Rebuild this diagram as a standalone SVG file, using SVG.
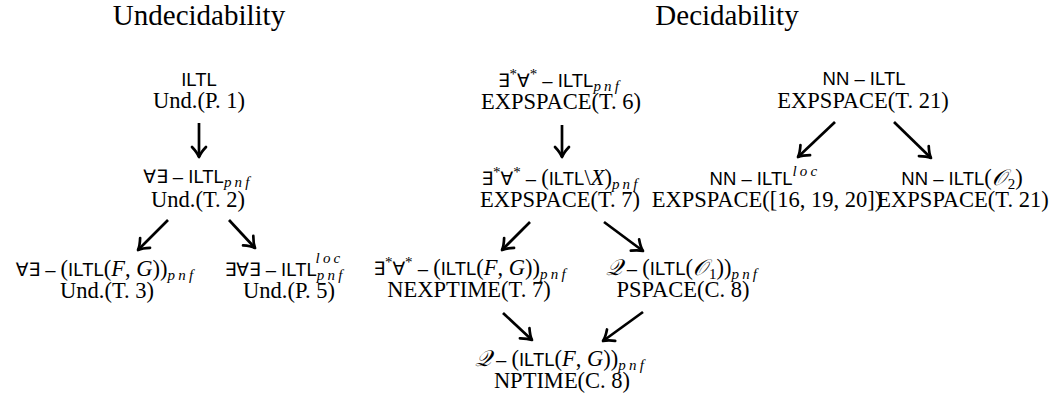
<svg xmlns="http://www.w3.org/2000/svg" width="1055" height="399" viewBox="0 0 1055 399">
<defs>
<style>
text{font-family:"Liberation Serif","DejaVu Serif",serif;font-size:22.5px;fill:#000;text-anchor:middle}
.t{font-size:29px}
.s{font-family:"Liberation Sans","DejaVu Sans",sans-serif;font-size:18.5px}
.it{font-style:italic}
.sb{font-style:italic;font-size:15px;letter-spacing:3.2px}
.st{font-size:15px}
.cal{font-family:"DejaVu Serif","Liberation Serif",serif;font-style:italic}
.arr line{stroke:#000;stroke-width:2.7;fill:none}
</style>
<marker id="ah" viewBox="-13 -10 15 20" markerWidth="15" markerHeight="20" refX="0" refY="0" orient="auto" markerUnits="userSpaceOnUse">
<path d="M-10,-7 Q-4.5,-1.8 0,0 Q-4.5,1.8 -10,7" fill="none" stroke="#000" stroke-width="2.7" stroke-linecap="round" stroke-linejoin="round"/>
</marker>
</defs>
<rect width="1055" height="399" fill="#fff"/>

<g id="titles">
<text class="t" x="199" y="25">Undecidability</text>
<text class="t" x="727" y="25">Decidability</text>
</g>

<g id="n-iltl">
<text x="199" y="86"><tspan class="s">ILTL</tspan></text>
<text x="199" y="108">Und.(P. 1)</text>
</g>

<g id="n-fe">
<text x="198" y="183"><tspan class="s">∀∃ – ILTL</tspan><tspan class="sb" dy="4">pnf</tspan></text>
<text x="198" y="207">Und.(T. 2)</text>
</g>

<g id="n-fe-fg">
<text x="106" y="276"><tspan class="s">∀∃ – </tspan><tspan>(</tspan><tspan class="s">ILTL</tspan><tspan>(</tspan><tspan class="it">F</tspan><tspan>, </tspan><tspan class="it">G</tspan><tspan>))</tspan><tspan class="sb" dy="4">pnf</tspan></text>
<text x="107" y="298">Und.(T. 3)</text>
</g>

<g id="n-efe-loc">
<text x="285" y="276"><tspan class="s">∃∀∃ – ILTL</tspan><tspan class="sb" dy="4">pnf</tspan><tspan class="sb" dx="-30" dy="-17">loc</tspan></text>
<text x="289" y="298">Und.(P. 5)</text>
</g>

<g id="n-ef">
<text x="560" y="87"><tspan class="s">∃</tspan><tspan class="st" dy="-8">*</tspan><tspan class="s" dy="8">∀</tspan><tspan class="st" dy="-8">*</tspan><tspan class="s" dy="8"> – ILTL</tspan><tspan class="sb" dy="4">pnf</tspan></text>
<text x="561" y="109">EXPSPACE(T. 6)</text>
</g>

<g id="n-ef-x">
<text x="561" y="185"><tspan class="s">∃</tspan><tspan class="st" dy="-8">*</tspan><tspan class="s" dy="8">∀</tspan><tspan class="st" dy="-8">*</tspan><tspan class="s" dy="8"> – </tspan><tspan>(</tspan><tspan class="s">ILTL</tspan><tspan>\</tspan><tspan class="it">X</tspan><tspan>)</tspan><tspan class="sb" dy="4">pnf</tspan></text>
<text x="560" y="207">EXPSPACE(T. 7)</text>
</g>

<g id="n-ef-fg">
<text x="471" y="275"><tspan class="s">∃</tspan><tspan class="st" dy="-8">*</tspan><tspan class="s" dy="8">∀</tspan><tspan class="st" dy="-8">*</tspan><tspan class="s" dy="8"> – </tspan><tspan>(</tspan><tspan class="s">ILTL</tspan><tspan>(</tspan><tspan class="it">F</tspan><tspan>, </tspan><tspan class="it">G</tspan><tspan>))</tspan><tspan class="sb" dy="4">pnf</tspan></text>
<text x="469" y="297">NEXPTIME(T. 7)</text>
</g>

<g id="n-q-o1">
<text x="683" y="275"><tspan class="cal">𝒬</tspan><tspan class="s"> – </tspan><tspan>(</tspan><tspan class="s">ILTL</tspan><tspan>(</tspan><tspan class="cal">𝒪</tspan><tspan class="st" dx="2" dy="4">1</tspan><tspan dy="-4">))</tspan><tspan class="sb" dy="4">pnf</tspan></text>
<text x="683" y="297">PSPACE(C. 8)</text>
</g>

<g id="n-q-fg">
<text x="561" y="366"><tspan class="cal">𝒬</tspan><tspan class="s"> – </tspan><tspan>(</tspan><tspan class="s">ILTL</tspan><tspan>(</tspan><tspan class="it">F</tspan><tspan>, </tspan><tspan class="it">G</tspan><tspan>))</tspan><tspan class="sb" dy="4">pnf</tspan></text>
<text x="562" y="388">NPTIME(C. 8)</text>
</g>

<g id="n-nn">
<text x="864" y="85"><tspan class="s">NN – ILTL</tspan></text>
<text x="863" y="108">EXPSPACE(T. 21)</text>
</g>

<g id="n-nn-loc">
<text x="765" y="185"><tspan class="s">NN – ILTL</tspan><tspan class="sb" dy="-9">loc</tspan></text>
<text x="767" y="207">EXPSPACE([16, 19, 20])</text>
</g>

<g id="n-nn-o2">
<text x="962" y="185"><tspan class="s">NN – ILTL</tspan><tspan>(</tspan><tspan class="cal">𝒪</tspan><tspan class="st" dx="2" dy="4">2</tspan><tspan dy="-4">)</tspan></text>
<text x="963" y="207">EXPSPACE(T. 21)</text>
</g>

<g id="connectors" class="arr">
<line x1="199" y1="123" x2="199" y2="157" marker-end="url(#ah)"/>
<line x1="168" y1="220" x2="138" y2="250" marker-end="url(#ah)"/>
<line x1="229" y1="220" x2="255" y2="248" marker-end="url(#ah)"/>
<line x1="562" y1="125" x2="562" y2="157" marker-end="url(#ah)"/>
<line x1="530" y1="222" x2="502" y2="250" marker-end="url(#ah)"/>
<line x1="604" y1="222" x2="643" y2="251" marker-end="url(#ah)"/>
<line x1="503" y1="313" x2="532" y2="340" marker-end="url(#ah)"/>
<line x1="643" y1="312" x2="603" y2="341" marker-end="url(#ah)"/>
<line x1="835" y1="122" x2="798" y2="157" marker-end="url(#ah)"/>
<line x1="894" y1="122" x2="931" y2="158" marker-end="url(#ah)"/>
</g>
</svg>
